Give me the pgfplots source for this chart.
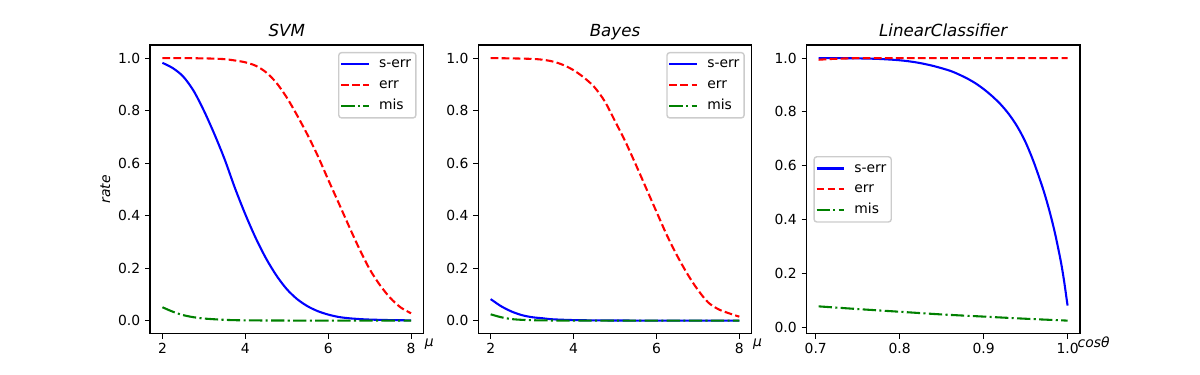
\documentclass[border=0pt]{standalone}
\usepackage{fontspec}
\setmainfont{DejaVu Sans}
\usepackage{pgfplots}
\pgfplotsset{compat=1.18}

\definecolor{mplgreen}{rgb}{0,0.5,0}

\pgfplotsset{
  panel/.style={
    scale only axis, width=196.94pt, height=207.9pt,
    anchor=south west,
    axis line style={line width=0.8pt},
    tick align=outside, tick pos=left,
    major tick length=3.5pt,
    tick style={black, line width=0.8pt},
    tick label style={font=\fontsize{10}{12}\selectfont},
    /pgf/number format/assume math mode=true,
    scaled ticks=false,
    yticklabel style={/pgf/number format/.cd, fixed, fixed zerofill, precision=1},
    ytick={0,0.2,0.4,0.6,0.8,1.0},
    legend cell align=left,
    legend image code/.code={\draw[#1] (0pt,0pt) -- (20pt,0pt);},
    legend style={font=\fontsize{10}{12}\selectfont, draw=black!20, line width=1pt,
      rounded corners=2pt, fill=white, inner xsep=1pt, inner ysep=1pt, column sep=4pt,
      nodes={inner xsep=2.5pt, inner ysep=2.5pt, text height=7.5pt, text depth=2.5pt}},
  },
  serr/.style={blue, line width=1.5pt, smooth},
  err/.style={red, line width=1.5pt, smooth, dash pattern=on 5.55pt off 2.4pt},
  mis/.style={mplgreen, line width=1.5pt, smooth, dash pattern=on 9.6pt off 2.4pt on 1.5pt off 2.4pt},
}
\tikzset{ttl/.style={anchor=base, inner sep=0pt, font=\fontsize{12}{14}\selectfont\itshape}}

\begin{document}
\begin{tikzpicture}
\path[use as bounding box] (0,0) rectangle (864pt,270pt);

% SVM
\begin{axis}[panel, name=a1, at={(108pt,29.7pt)},
  xmin=1.7, xmax=8.3, ymin=-0.05, ymax=1.05, xtick={2,4,6,8},
  legend style={at={(1,1)}, anchor=north east, xshift=-5pt, yshift=-5pt}]
\addplot[serr] coordinates {(2.00,0.982) (2.25,0.962) (2.50,0.930) (2.75,0.876) (3.00,0.800)
  (3.25,0.712) (3.50,0.615) (3.75,0.505) (4.00,0.405) (4.25,0.315) (4.50,0.237) (4.75,0.172)
  (5.00,0.120) (5.25,0.082) (5.50,0.055) (5.75,0.036) (6.00,0.023) (6.25,0.014) (6.50,0.009)
  (6.75,0.006) (7.00,0.004) (7.50,0.002) (8.00,0.001)};
\addlegendentry{s-err}
\addplot[err] coordinates {(2.00,1.000) (2.50,1.000) (3.00,0.999) (3.25,0.998) (3.50,0.996)
  (3.75,0.991) (4.00,0.984) (4.25,0.971) (4.50,0.946) (4.75,0.906) (5.00,0.850) (5.25,0.782)
  (5.50,0.708) (5.75,0.627) (6.00,0.537) (6.25,0.449) (6.50,0.360) (6.75,0.274) (7.00,0.196)
  (7.25,0.135) (7.50,0.086) (7.75,0.050) (8.00,0.028)};
\addlegendentry{err}
\addplot[mis] coordinates {(2.00,0.051) (2.25,0.034) (2.50,0.021) (2.75,0.013) (3.00,0.008)
  (3.50,0.003) (4.00,0.001) (5.00,0.0003) (6.00,0.0001) (8.00,0.0)};
\addlegendentry{mis}
\end{axis}
\node[ttl] at ([yshift=6pt]a1.north) {SVM};
\node[anchor=west, inner sep=0pt] at ([xshift=0.7pt, yshift=-7.4pt]a1.south east) {\textit{μ}};
\node[rotate=90, anchor=base, inner sep=0pt] at ([xshift=-28.8pt]a1.west) {\textit{rate}};

% Bayes
\begin{axis}[panel, name=a2, at={(344.33pt,29.7pt)},
  xmin=1.7, xmax=8.3, ymin=-0.05, ymax=1.05, xtick={2,4,6,8},
  legend style={at={(1,1)}, anchor=north east, xshift=-5pt, yshift=-5pt}]
\addplot[serr] coordinates {(2.00,0.082) (2.25,0.055) (2.50,0.035) (2.75,0.021) (3.00,0.013)
  (3.25,0.009) (3.50,0.005) (4.00,0.002) (4.50,0.001) (5.00,0.0005) (6.00,0.0001) (8.00,0.0)};
\addlegendentry{s-err}
\addplot[err] coordinates {(2.00,1.000) (2.50,0.999) (3.00,0.997) (3.25,0.994) (3.50,0.987)
  (3.75,0.974) (4.00,0.954) (4.25,0.926) (4.50,0.890) (4.75,0.836) (5.00,0.760) (5.25,0.682)
  (5.50,0.595) (5.75,0.505) (6.00,0.415) (6.25,0.326) (6.50,0.247) (6.75,0.177) (7.00,0.117)
  (7.25,0.069) (7.50,0.043) (7.75,0.028) (8.00,0.015)};
\addlegendentry{err}
\addplot[mis] coordinates {(2.00,0.024) (2.25,0.013) (2.50,0.006) (2.75,0.003) (3.00,0.0015)
  (3.50,0.0005) (4.00,0.0002) (8.00,0.0)};
\addlegendentry{mis}
\end{axis}
\node[ttl] at ([yshift=6pt]a2.north) {Bayes};
\node[anchor=west, inner sep=0pt] at ([xshift=0.7pt, yshift=-7.4pt]a2.south east) {\textit{μ}};

% LinearClassifier
\begin{axis}[panel, name=a3, at={(580.66pt,29.7pt)},
  xmin=0.689, xmax=1.0148, ymin=-0.0248, ymax=1.0488, xtick={0.7,0.8,0.9,1.0},
  xticklabel style={/pgf/number format/.cd, fixed, fixed zerofill, precision=1},
  legend style={at={(0,0.5)}, anchor=west, xshift=5pt}]
\addplot[serr] coordinates {(0.7035,1.000) (0.725,1.000) (0.750,0.999) (0.775,0.997)
  (0.800,0.992) (0.820,0.984) (0.840,0.971) (0.860,0.953) (0.870,0.940) (0.880,0.925)
  (0.890,0.907) (0.900,0.885) (0.910,0.859) (0.920,0.829) (0.930,0.792) (0.940,0.746)
  (0.950,0.687) (0.960,0.611) (0.970,0.521) (0.975,0.470) (0.980,0.413) (0.985,0.349)
  (0.990,0.275) (0.993,0.226) (0.996,0.168) (0.998,0.124) (1.000,0.080)};
\addlegendentry{s-err}
\addplot[err] coordinates {(0.7035,0.994) (0.720,0.997) (0.740,0.999) (0.770,1.000) (1.000,1.000)};
\addlegendentry{err}
\addplot[mis] coordinates {(0.7035,0.077) (0.750,0.067) (0.800,0.057) (0.850,0.047)
  (0.900,0.039) (0.950,0.031) (1.000,0.024)};
\addlegendentry{mis}
\end{axis}
\node[ttl] at ([yshift=6pt]a3.north) {LinearClassifier};
\node[anchor=west, inner sep=0pt] at ([xshift=-1.9pt, yshift=-6.2pt]a3.south east) {\textit{cosθ}};
\end{tikzpicture}
\end{document}
